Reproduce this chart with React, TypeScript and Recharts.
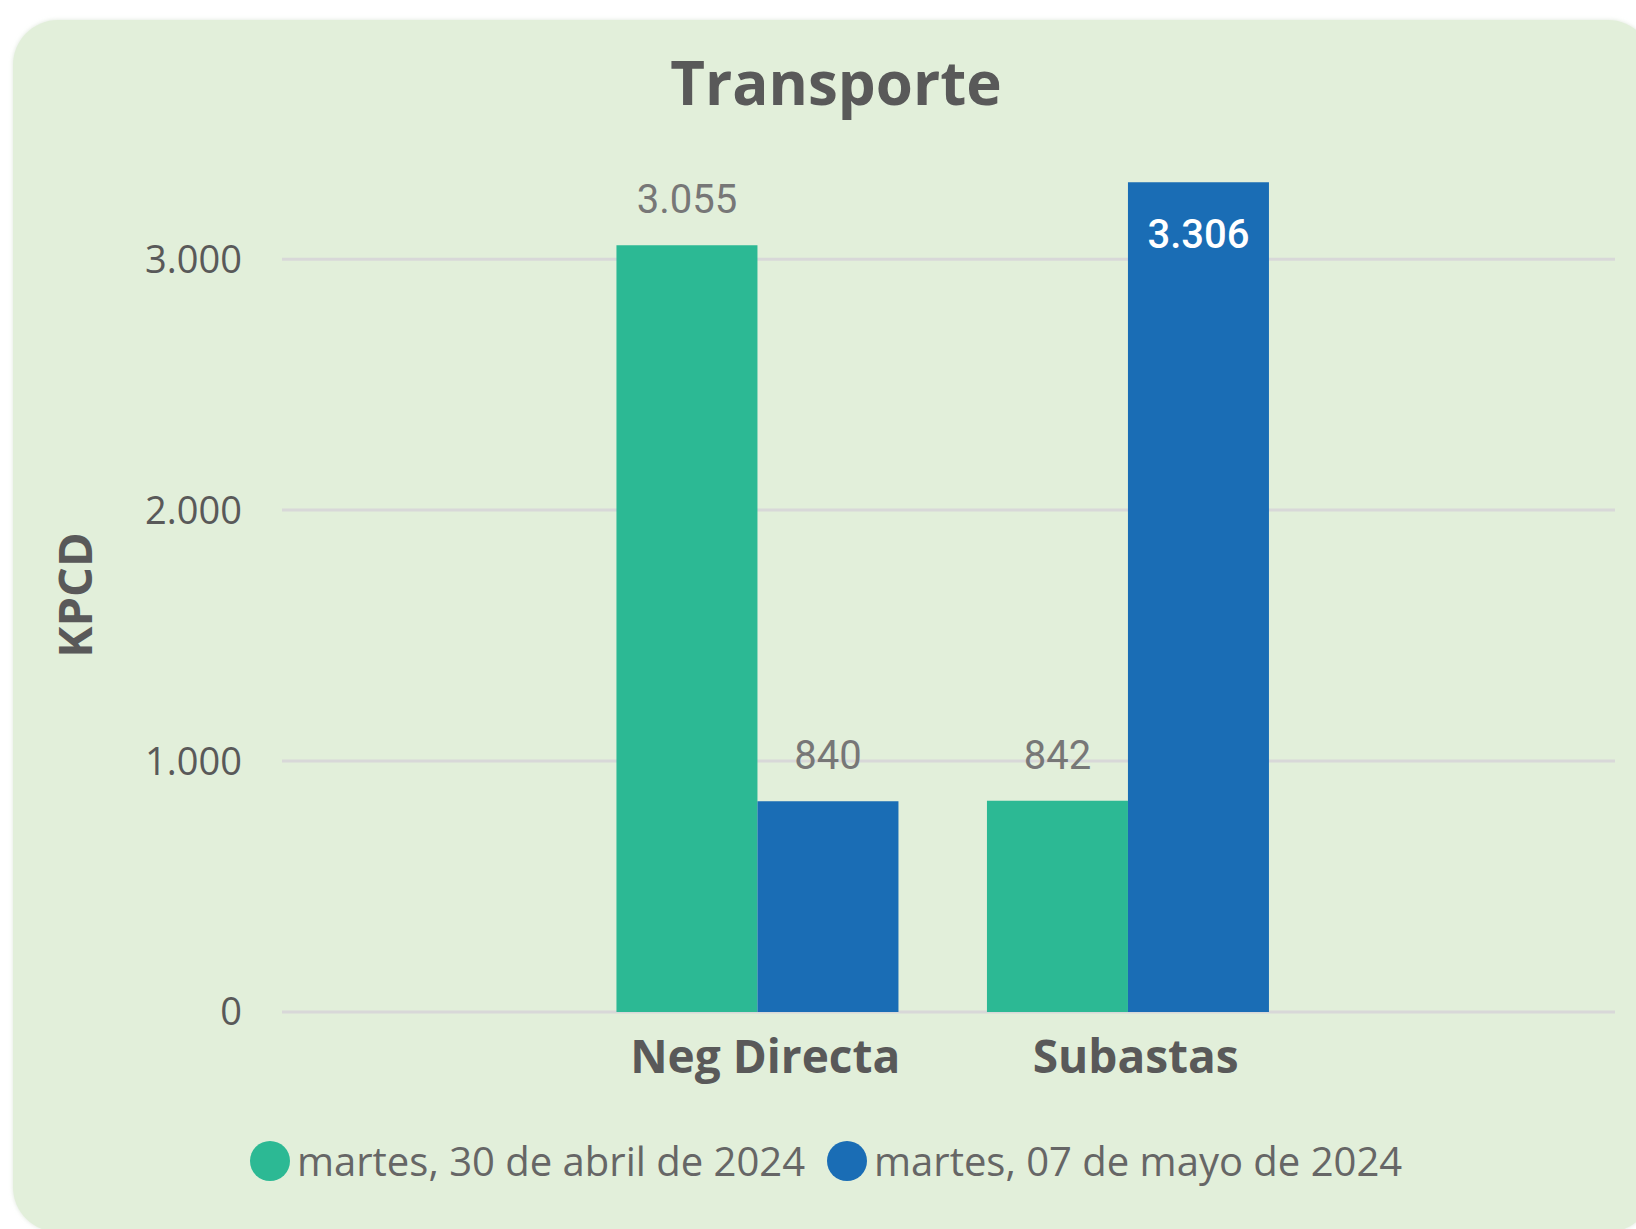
import React from "react";
import { BarChart, Bar, XAxis, YAxis, CartesianGrid, LabelList, Legend, Label } from "recharts";

const categories = ["Neg Directa", "Subastas"];
const serieAbril = [3055, 842];
const serieMayo = [840, 3306];
const seriesNames = ["martes, 30 de abril de 2024", "martes, 07 de mayo de 2024"];
const yTicks = [0, 1000, 2000, 3000];
const yMax = 3395;

const GREEN = "#2cb994";
const BLUE = "#1a6db5";
const MARGIN_TOP = 160;

const data = categories.map((c, i) => ({ cat: c, a: serieAbril[i], m: serieMayo[i] }));

const fmt = (v: number) => String(Math.round(v)).replace(/\B(?=(\d{3})+(?!\d))/g, ".");

const ValueLabel = (props: any) => {
  const { x, y, width, value } = props;
  const cx = Number(x) + Number(width) / 2;
  const outsideBaseline = Number(y) - 32;
  const inside = outsideBaseline - 30 < MARGIN_TOP;
  return (
    <text
      x={cx}
      y={inside ? Number(y) + 66 : outsideBaseline}
      textAnchor="middle"
      fill={inside ? "#ffffff" : "#777777"}
      fontFamily="Roboto, 'DejaVu Sans', sans-serif"
      fontWeight={inside ? 500 : 400}
      fontSize={40}
    >
      {fmt(Number(value))}
    </text>
  );
};

const LegendContent = (props: any) => {
  const payload = [...(props.payload || [])].sort(
    (p: any, q: any) => seriesNames.indexOf(p.value) - seriesNames.indexOf(q.value)
  );
  return (
    <div style={{ display: "flex", alignItems: "center", paddingLeft: 250, height: 40 }}>
      {payload.map((p: any, i: number) => (
        <div key={i} style={{ display: "flex", alignItems: "center", marginRight: 22 }}>
          <span
            style={{
              display: "inline-block",
              width: 40,
              height: 40,
              borderRadius: "50%",
              background: p.color,
              marginRight: 7,
            }}
          />
          <span
            style={{
              fontFamily: "'Open Sans', sans-serif",
              fontSize: 40,
              lineHeight: "40px",
              color: "#666666",
              whiteSpace: "nowrap",
            }}
          >
            {p.value}
          </span>
        </div>
      ))}
    </div>
  );
};

const YLabel = (props: any) => {
  const vb = props.viewBox || { x: 0, y: 0, width: 0, height: 0 };
  const tx = vb.x + 92;
  const ty = vb.y + vb.height / 2 + 9;
  return (
    <text
      x={tx}
      y={ty}
      transform={`rotate(-90, ${tx}, ${ty})`}
      textAnchor="middle"
      fill="#595959"
      fontFamily="'Open Sans', sans-serif"
      fontWeight={700}
      fontSize={47}
    >
      KPCD
    </text>
  );
};

export default function App() {
  return (
    <div
      style={{
        position: "absolute",
        left: 0,
        top: 0,
        width: 1636,
        height: 1229,
        background: "#ffffff",
        overflow: "hidden",
      }}
    >
      <div
        style={{
          position: "absolute",
          left: 13,
          top: 20,
          width: 1640,
          height: 1212,
          borderRadius: 45,
          background: "#e2efda",
          boxShadow: "0 0 4px rgba(200,215,195,0.6)",
        }}
      />
      <div
        style={{
          position: "absolute",
          left: 13,
          top: 52,
          width: 1646,
          textAlign: "center",
          fontFamily: "'Open Sans', sans-serif",
          fontWeight: 700,
          fontSize: 60,
          lineHeight: "60px",
          color: "#595959",
        }}
      >
        Transporte
      </div>
      <div style={{ position: "absolute", left: 0, top: 0 }}>
        <BarChart
          width={1636}
          height={1229}
          data={data}
          margin={{ top: MARGIN_TOP, right: 21, left: 0, bottom: 137 }}
          barCategoryGap="12%"
          barGap={0}
        >
          <CartesianGrid vertical={false} stroke="#d8d8d8" strokeWidth={3} syncWithTicks />
          <XAxis
            dataKey="cat"
            axisLine={false}
            tickLine={false}
            height={80}
            tickMargin={22}
            padding={{ left: 290, right: 302 }}
            tick={{ fill: "#595959", fontSize: 46, fontWeight: 700, fontFamily: "'Open Sans', sans-serif", dx: 8 }}
          />
          <YAxis
            width={282}
            domain={[0, yMax]}
            ticks={yTicks}
            axisLine={false}
            tickLine={false}
            tickMargin={34}
            tickFormatter={fmt}
            tick={{ fill: "#595959", fontSize: 38, fontFamily: "'Open Sans', sans-serif" }}
          >
            <Label content={<YLabel />} />
          </YAxis>
          <Legend
            layout="vertical"
            align="center"
            verticalAlign="middle"
            wrapperStyle={{ position: "absolute", left: 0, top: 1141, width: 1636, height: 40 }}
            content={<LegendContent />}
          />
          <Bar dataKey="a" name={seriesNames[0]} fill={GREEN} isAnimationActive={false}>
            <LabelList dataKey="a" content={<ValueLabel />} />
          </Bar>
          <Bar dataKey="m" name={seriesNames[1]} fill={BLUE} isAnimationActive={false}>
            <LabelList dataKey="m" content={<ValueLabel />} />
          </Bar>
        </BarChart>
      </div>
    </div>
  );
}
